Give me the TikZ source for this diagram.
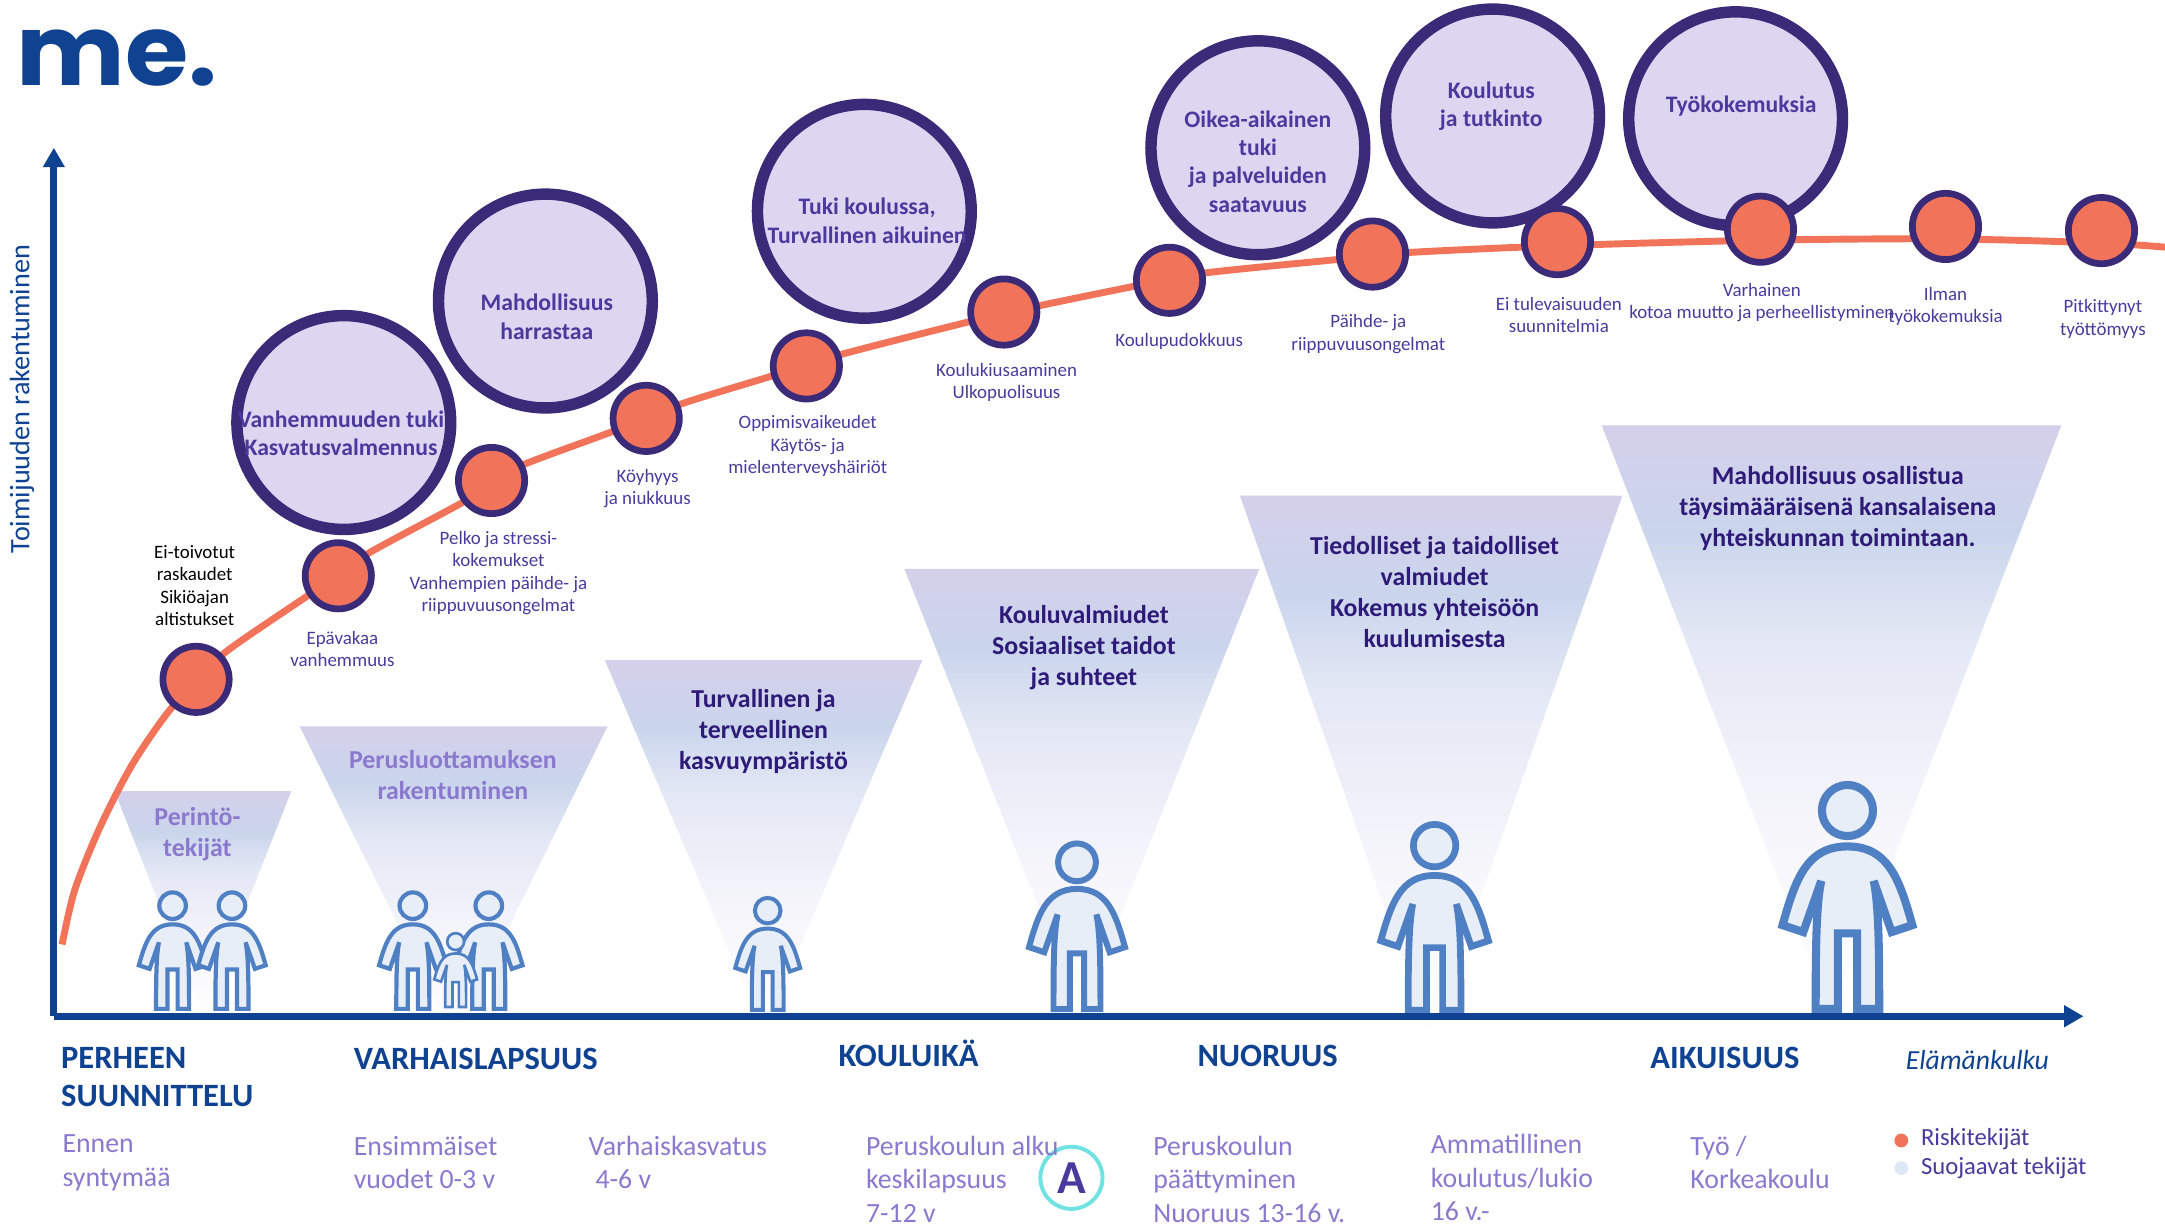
\documentclass[tikz,border=0pt]{standalone}
\usepackage{fontspec}
\setmainfont{Carlito}
\newfontfamily\logofont{Poppins}
\usetikzlibrary{arrows.meta}
\definecolor{axisblue}{HTML}{0F4391}
\definecolor{ringpurple}{HTML}{3A2A78}
\definecolor{ringfill}{HTML}{DCD6F0}
\definecolor{riskorange}{HTML}{F1745A}
\definecolor{txtpurple}{HTML}{4B3A9E}
\definecolor{txtdark}{HTML}{2E1A78}
\definecolor{txtlight}{HTML}{8A79CE}
\definecolor{personline}{HTML}{5080C4}
\definecolor{personfill}{HTML}{E8EEF8}
\definecolor{protect}{HTML}{DEE8F5}
\definecolor{badgecyan}{HTML}{70E2E2}
\definecolor{triA}{HTML}{D5D0EA}
\definecolor{triB}{HTML}{CAD5EC}
\definecolor{triC}{HTML}{E4E8F5}
\definecolor{triD}{HTML}{F5F5FB}
\pgfdeclareverticalshading{trishade}{100bp}{
  color(0bp)=(white); color(25bp)=(white);
  color(42bp)=(triD);
  color(57bp)=(triC);
  color(66bp)=(triB);
  color(75bp)=(triA); color(100bp)=(triA)}
\tikzset{
  bigring/.style={circle,draw=ringpurple,fill=ringfill,line width=5.8pt,minimum size=108.4pt,inner sep=0pt},
  riskdot/.style={circle,draw=ringpurple,fill=riskorange,line width=3.4pt,minimum size=33.6pt,inner sep=0pt},
  axisline/.style={draw=axisblue,line width=3.5pt,-{Triangle[length=9.8pt,width=10.5pt]}},
  curveline/.style={draw=riskorange,line width=3.5pt},
  ringtxt/.style={inner sep=0pt,align=center,text=txtpurple,font=\fontsize{12}{14.4}\selectfont\bfseries},
  tritxt/.style={inner sep=0pt,align=center,text=txtdark,font=\fontsize{13.1}{15.7}\selectfont\bfseries},
  tritxtl/.style={tritxt,text=txtlight},
  smalltxt/.style={inner sep=0pt,align=center,text=txtpurple,font=\fontsize{9.6}{11.4}\selectfont},
  stagetxt/.style={inner sep=0pt,anchor=west,align=left,text=axisblue,font=\fontsize{16.5}{19.6}\selectfont\bfseries},
  subtxt/.style={inner sep=0pt,anchor=west,align=left,text=txtlight,font=\fontsize{14.1}{17}\selectfont},
  legendtxt/.style={inner sep=0pt,anchor=west,text=txtpurple,font=\fontsize{12.5}{14}\selectfont},
}
\newcommand{\tritop}[4]{\shade[shading=trishade] (#1,#2) -- (#3,#2) -- (#4) -- cycle;}
\newcommand{\figperson}[3]{%
  \begin{scope}[shift={(#1,#2)},scale=#3,draw=personline,fill=personfill,line width={#3*4.1pt},line join=miter]
    \filldraw (0,21) circle (18.5);
    \filldraw (-7,164.7) -- (-7,110) -- (7,110) -- (7,164.7) -- (23,164.7)
      .. controls (23,130) and (23,90) .. (19,72) -- (32,109) -- (47,104)
      .. controls (38,72) and (30,47) .. (0,47)
      .. controls (-30,47) and (-38,72) .. (-47,104) -- (-32,109) -- (-19,72)
      .. controls (-23,90) and (-23,130) .. (-23,164.7) -- cycle;
  \end{scope}}
\begin{document}
\begin{tikzpicture}[x=0.7pt,y=-0.7pt]
\useasboundingbox (0,0) rectangle (1568,888);
% triangles
\coordinate (a1) at (147,735);\coordinate (a2) at (329,752);\coordinate (a3) at (553,747);
\coordinate (a4) at (783,735);\coordinate (a5) at (1036,752);\coordinate (a6) at (1327,737);
\tritop{83}{573}{211}{a1}
\tritop{217}{526}{440}{a2}
\tritop{438}{478}{668}{a3}
\tritop{655}{412}{912}{a4}
\tritop{898}{359}{1175}{a5}
\tritop{1160}{308}{1493}{a6}
% risk curve
\draw[curveline] plot[smooth] coordinates {(45,684) (54,645) (72,600) (95,555) (120,518) (142,493) (165,471) (222,432) (245,416) (268,400) (333,365) (356,351) (378,337) (445,312) (492,293) (560,272) (608,257) (702,233) (750,222) (823,207) (870,198) (968,188) (1018,183) (1128,178) (1275,174) (1409,173) (1522,176) (1568,179)};
% big circles
\node[bigring] (b1) at (249,306) {};
\node[bigring] (b2) at (395,218) {};
\node[bigring] (b3) at (626,153) {};
\node[bigring] (b4) at (911,107) {};
\node[bigring] (b5) at (1081,84) {};
\node[bigring] (b6) at (1257,86) {};
% risk dots
\node[riskdot] (r1) at (142,492) {};
\node[riskdot] (r2) at (245,417) {};
\node[riskdot] (r3) at (356,348) {};
\node[riskdot] (r4) at (468,303) {};
\node[riskdot] (r5) at (584,265) {};
\node[riskdot] (r6) at (727,226) {};
\node[riskdot] (r7) at (847,203) {};
\node[riskdot] (r8) at (994,184) {};
\node[riskdot] (r9) at (1128,175) {};
\node[riskdot] (r10) at (1275,166) {};
\node[riskdot] (r11) at (1409,164) {};
\node[riskdot] (r12) at (1522,167) {};
% people
\figperson{125}{645}{0.52}
\figperson{168}{645}{0.52}
\figperson{299}{645}{0.52}
\figperson{354}{645}{0.52}
\figperson{330}{675}{0.33}
\figperson{556}{649}{0.5}
\figperson{780}{609}{0.74}
\figperson{1039}{595}{0.83}
\figperson{1338}{566}{1}
% axes
\coordinate (origin) at (39,736);
\coordinate (ytop) at (39,107);
\coordinate (xend) at (1509,736);
\draw[axisline] (origin) -- (ytop);
\draw[axisline] (origin) -- (xend);
% logo
\node[inner sep=0pt,anchor=base west,xscale=1.04,transform shape,text=axisblue,font=\logofont\fontsize{50}{50}\selectfont\bfseries] (logo) at (12,62) {me.};
\node[rotate=90,inner sep=0pt,text=axisblue,font=\fontsize{14.3}{16}\selectfont] (ylab) at (16,289) {Toimijuuden rakentuminen};
% circle text
\node[ringtxt] (t1) at (247,314) {Vanhemmuuden tuki\\Kasvatusvalmennus};
\node[ringtxt] (t2) at (396,229.5) {Mahdollisuus\\harrastaa};
\node[ringtxt] (t3) at (628,160) {Tuki koulussa,\\Turvallinen aikuinen};
\node[ringtxt] (t4) at (911,117) {Oikea-aikainen\\tuki\\ja palveluiden\\saatavuus};
\node[ringtxt] (t5) at (1080,77) {Koulutus\\ja tutkinto};
\node[ringtxt] (t6) at (1261,76.5) {Työkokemuksia};
% triangle text
\node[tritxtl] (u1) at (143,604) {Perintö-\\tekijät};
\node[tritxtl] (u2) at (328,561) {Perusluottamuksen\\rakentuminen};
\node[tritxt] (u3) at (553,530) {Turvallinen ja\\terveellinen\\kasvuympäristö};
\node[tritxt] (u4) at (785,469) {Kouluvalmiudet\\Sosiaaliset taidot\\ja suhteet};
\node[tritxt] (u5) at (1039,429) {Tiedolliset ja taidolliset\\valmiudet\\Kokemus yhteisöön\\kuulumisesta};
\node[tritxt] (u6) at (1331,368.5) {Mahdollisuus osallistua\\täysimääräisenä kansalaisena\\yhteiskunnan toimintaan.};
% small labels
\node[smalltxt,text=black] (s1) at (141,424) {Ei-toivotut\\raskaudet\\Sikiöajan\\altistukset};
\node[smalltxt] (s2) at (248,470) {Epävakaa\\vanhemmuus};
\node[smalltxt] (s3) at (361,415) {Pelko ja stressi-\\kokemukset\\Vanhempien päihde- ja\\riippuvuusongelmat};
\node[smalltxt] (s4) at (469,354) {Köyhyys\\ja niukkuus};
\node[smalltxt] (s5) at (585,323) {Oppimisvaikeudet\\Käytös- ja\\mielenterveyshäiriöt};
\node[smalltxt] (s6) at (729,277) {Koulukiusaaminen\\Ulkopuolisuus};
\node[smalltxt] (s7) at (854,247) {Koulupudokkuus};
\node[smalltxt] (s8) at (991,242) {Päihde- ja\\riippuvuusongelmat};
\node[smalltxt] (s9) at (1129,228) {Ei tulevaisuuden\\suunnitelmia};
\node[smalltxt] (s10) at (1276,219) {Varhainen\\kotoa muutto ja perheellistyminen};
\node[smalltxt] (s11) at (1409,222) {Ilman\\työkokemuksia};
\node[smalltxt] (s12) at (1523,231) {Pitkittynyt\\työttömyys};
% stages
\node[stagetxt] (h1) at (44,780) {PERHEEN\\SUUNNITTELU};
\node[stagetxt] (h2) at (256,767) {VARHAISLAPSUUS};
\node[stagetxt] (h3) at (607,763) {KOULUIKÄ};
\node[stagetxt] (h4) at (867,765) {NUORUUS};
\node[stagetxt] (h5) at (1195,766) {AIKUISUUS};
\node[inner sep=0pt,anchor=west,text=axisblue,font=\fontsize{14}{15}\selectfont\itshape] (h6) at (1380,768) {Elämänkulku};
% badge
\node[circle,draw=badgecyan,fill=white,line width=2pt,minimum size=31.5pt,inner sep=0pt,text=txtpurple,font=\fontsize{24}{24}\selectfont\bfseries] (badge) at (776,853) {A};
% sub labels
\node[subtxt] (d1) at (45,842) {Ennen\\syntymää};
\node[subtxt] (d2) at (256,842) {Ensimmäiset\\vuodet 0-3 v};
\node[subtxt] (d3) at (426,842) {Varhaiskasvatus\\\hspace*{3.5pt}4-6 v};
\node[subtxt] (d4) at (627,854) {Peruskoulun alku\\keskilapsuus\\7-12 v};
\node[subtxt] (d5) at (835,854) {Peruskoulun\\päättyminen\\Nuoruus 13-16 v.};
\node[subtxt] (d6) at (1036,853) {Ammatillinen\\koulutus/lukio\\16 v.-};
\node[subtxt] (d7) at (1224,842) {Työ /\\Korkeakoulu};
% legend
\node[circle,fill=riskorange,minimum size=7pt,inner sep=0pt] (l1) at (1377,826) {};
\node[circle,fill=protect,minimum size=7pt,inner sep=0pt] (l2) at (1377,846) {};
\node[legendtxt] (l1t) at (1391,825) {Riskitekijät};
\node[legendtxt] (l2t) at (1391,846) {Suojaavat tekijät};
\end{tikzpicture}
\end{document}
